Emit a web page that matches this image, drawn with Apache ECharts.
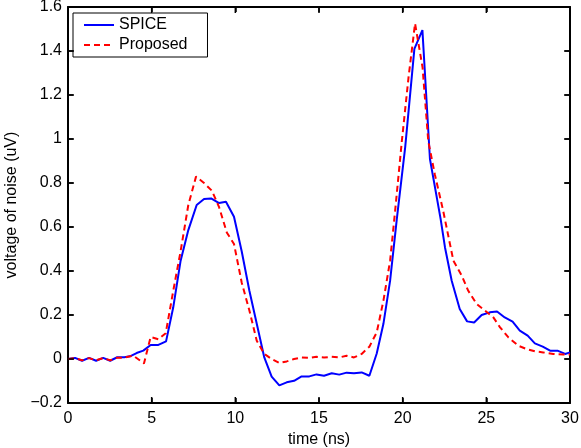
<!DOCTYPE html>
<html>
<head>
<meta charset="utf-8">
<script src="https://cdn.jsdelivr.net/npm/echarts@6/dist/echarts.min.js"></script>
<style>html,body{margin:0;padding:0;background:#fff;}#c{width:581px;height:448px;}</style>
</head>
<body>
<div id="c"></div>
<script>
const spiceT = [0,0.42,0.84,1.26,1.68,2.1,2.52,2.94,3.36,3.7,4.1,4.5,4.94,5.4,5.86,6.29,6.73,7.19,7.69,8.13,8.55,9.03,9.44,9.92,10.38,10.84,11.28,11.73,12.17,12.63,13.07,13.51,13.96,14.42,14.85,15.3,15.76,16.21,16.65,17.09,17.55,18.01,18.45,18.85,19.25,19.65,20.15,20.7,21.18,21.63,22.27,22.53,22.93,23.41,23.85,24.27,24.72,25.2,25.64,26.1,26.57,27.0,27.47,27.9,28.37,28.81,29.25,29.71,30];
const spiceV = [0,0.005,-0.008,0.005,-0.008,0.005,-0.008,0.008,0.008,0.012,0.027,0.038,0.064,0.064,0.08,0.235,0.447,0.586,0.70,0.727,0.73,0.709,0.715,0.647,0.49,0.31,0.16,0.007,-0.08,-0.12,-0.106,-0.099,-0.079,-0.079,-0.07,-0.076,-0.065,-0.071,-0.062,-0.065,-0.061,-0.076,0.025,0.16,0.356,0.636,0.962,1.41,1.495,0.909,0.636,0.507,0.356,0.227,0.171,0.166,0.2,0.212,0.216,0.189,0.17,0.129,0.106,0.071,0.056,0.038,0.038,0.023,0.03];
const propT = [0,0.42,0.84,1.26,1.68,2.1,2.52,2.94,3.36,3.9,4.54,4.94,5.4,5.84,6.29,6.73,7.19,7.65,8.13,8.6,9.03,9.49,9.92,10.38,10.84,11.28,11.73,12.17,12.63,13.07,13.51,13.96,14.42,14.85,15.3,15.76,16.21,16.65,17.09,17.55,18.01,18.45,18.85,19.25,19.55,19.95,20.35,20.74,21.19,21.53,21.92,22.42,23.03,23.53,23.92,24.42,24.92,25.42,25.82,26.32,26.92,27.42,27.9,28.4,29.0,29.6,30];
const propV = [0,0.004,-0.006,0.004,-0.006,0.004,-0.006,0.006,0.006,0.015,-0.02,0.10,0.09,0.117,0.31,0.49,0.70,0.829,0.80,0.765,0.69,0.575,0.523,0.348,0.22,0.083,0.023,0.0,-0.018,-0.011,0.0,0.007,0.005,0.01,0.007,0.01,0.007,0.015,0.007,0.023,0.056,0.121,0.265,0.447,0.674,0.99,1.28,1.525,1.325,0.99,0.84,0.674,0.447,0.379,0.31,0.25,0.22,0.189,0.144,0.098,0.06,0.045,0.035,0.03,0.023,0.02,0.02];
const xTicks = [0,5,10,15,20,25,30];
const yTicks = [-0.2,0,0.2,0.4,0.6,0.8,1,1.2,1.4,1.6];

const font = 'Liberation Sans, Arial, Helvetica, sans-serif';
const xMin = xTicks[0], xMax = xTicks[xTicks.length-1];
const yMin = yTicks[0], yMax = yTicks[yTicks.length-1];
const TL = 6, TW = 1.5;
const chart = echarts.init(document.getElementById('c'), null, {renderer:'canvas'});
const axLine = () => ({show:true, onZero:false, lineStyle:{color:'#000', width:2, opacity:1}});
const tick = () => ({show:true, inside:true, length:5, lineStyle:{color:'#000', width:1.5, opacity:1}});
function tickRect(x,y,w,h){
  return {type:'rect', shape:{x:x,y:y,width:w,height:h}, style:{fill:'#000'}};
}
chart.setOption({
  animation:false,
  backgroundColor:'#fff',
  grid:{left:68, right:11, top:7, bottom:45, containLabel:false, outerBoundsMode:'none'},
  legend:{
    left:73, top:13, orient:'vertical',
    borderColor:'#000', borderWidth:1, borderRadius:0,
    padding:[4,20,4,10], itemGap:4, itemWidth:30, itemHeight:14,
    itemStyle:{color:'rgba(0,0,0,0)', borderWidth:0},
    textStyle:{fontFamily:font, fontSize:16, color:'#000'},
    data:['SPICE','Proposed']
  },
  xAxis:[{
    type:'value', min:xMin, max:xMax, interval:5, position:'bottom',
    axisLine:axLine(), axisTick:tick(), splitLine:{show:false},
    axisLabel:{fontFamily:font, fontSize:16, color:'#000', margin:8,
      formatter:v=>xTicks.includes(v)?String(v):''},
    name:'time (ns)', nameLocation:'middle', nameGap:28,
    nameTextStyle:{fontFamily:font, fontSize:16, color:'#000'}
  },{
    type:'value', min:xMin, max:xMax, interval:5, position:'top',
    axisLine:axLine(), axisTick:tick(), axisLabel:{show:false}, splitLine:{show:false}
  }],
  yAxis:[{
    type:'value', min:yMin, max:yMax, interval:0.2, position:'left',
    axisLine:axLine(), axisTick:tick(), splitLine:{show:false},
    axisLabel:{fontFamily:font, fontSize:16, color:'#000', margin:6,
      formatter:v=>{const r=Math.round(v*10)/10; return r<0?'\u2212'+Math.abs(r):String(r);}},
    name:'voltage of noise (uV)', nameLocation:'middle', nameGap:41,
    nameTextStyle:{fontFamily:font, fontSize:16, color:'#000'}
  },{
    type:'value', min:yMin, max:yMax, interval:0.2, position:'right',
    axisLine:axLine(), axisTick:tick(), axisLabel:{show:false}, splitLine:{show:false}
  }],
  series:[{
    name:'SPICE', type:'line', symbol:'none', xAxisIndex:0, yAxisIndex:0,
    lineStyle:{color:'#0000ff', width:2}, itemStyle:{color:'#0000ff'},
    data:spiceT.map((t,i)=>[t,spiceV[i]])
  },{
    name:'Proposed', type:'line', symbol:'none', xAxisIndex:0, yAxisIndex:0,
    lineStyle:{color:'#ff0000', width:2, type:[6,4]}, itemStyle:{color:'#ff0000'},
    data:propT.map((t,i)=>[t,propV[i]])
  },{
    name:'xticks', type:'custom', xAxisIndex:0, yAxisIndex:0, silent:true, clip:false, z:10,
    data:xTicks.map(v=>[v, yMin]),
    renderItem:function(params, api){
      const v = api.value(0);
      const b = api.coord([v, yMin]);
      const t = api.coord([v, yMax]);
      return {type:'group', children:[
        tickRect(b[0]-TW/2, b[1]-TL, TW, TL),
        tickRect(t[0]-TW/2, t[1], TW, TL)
      ]};
    }
  },{
    name:'yticks', type:'custom', xAxisIndex:0, yAxisIndex:0, silent:true, clip:false, z:10,
    data:yTicks.map(v=>[xMin, v]),
    renderItem:function(params, api){
      const v = api.value(1);
      const l = api.coord([xMin, v]);
      const r = api.coord([xMax, v]);
      return {type:'group', children:[
        tickRect(l[0], l[1]-TW/2, TL, TW),
        tickRect(r[0]-TL, r[1]-TW/2, TL, TW)
      ]};
    }
  }]
});
</script>
</body>
</html>
